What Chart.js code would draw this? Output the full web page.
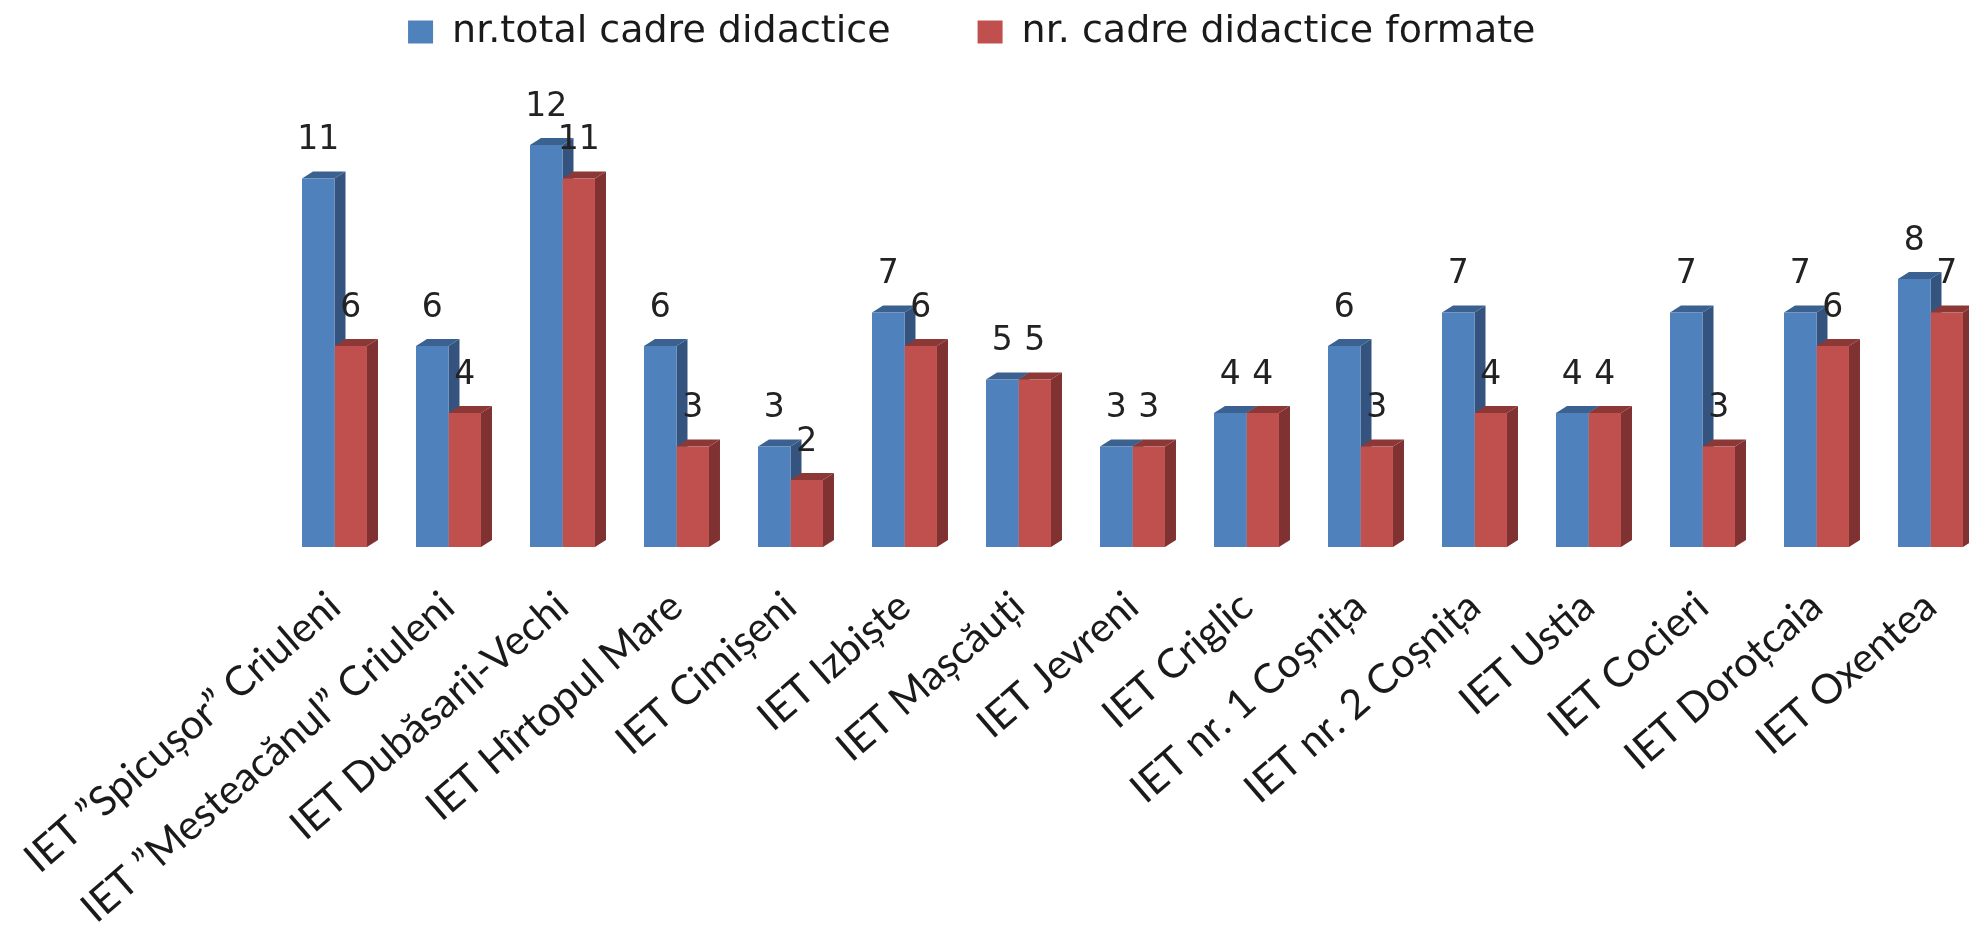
<!DOCTYPE html>
<html><head><meta charset="utf-8">
<style>html,body{margin:0;padding:0;background:#fff;overflow:hidden}
#w{width:1969px;height:926px;overflow:hidden;position:relative}
canvas{display:block;filter:blur(0.6px)}</style>
<script src="https://cdn.jsdelivr.net/npm/chart.js@4"></script></head>
<body><div id="w"><canvas id="c" width="2000" height="926" style="width:2000px;height:926px"></canvas></div>
<script>
const categories=["IET ”Spicușor” Criuleni","IET ”Mesteacănul” Criuleni","IET Dubăsarii-Vechi","IET Hîrtopul Mare","IET Cimișeni","IET Izbiște","IET Mașcăuți","IET Jevreni","IET Criglic","IET nr. 1 Coșnița","IET nr. 2 Coșnița","IET Ustia","IET Cocieri","IET Doroțcaia","IET Oxentea"];
const totalTeachers=[11,6,12,6,3,7,5,3,4,6,7,4,7,7,8];
const trainedTeachers=[6,4,11,3,2,6,5,3,4,3,4,4,3,6,7];
const seriesNames=["nr.total cadre didactice","nr. cadre didactice formate"];
const colors=["#4F81BD","#C0504D"], sides=["#34547F","#7F3231"], tops=["#3A6190","#8C3836"];
const DX=11,DY=7;
const depth={id:'depth',
 beforeLayout(ch){const l=ch.legend;if(l&&!l._p){l._p=1;const f=l.fit;l.fit=function(){f.call(this);this.height=78;};}},
 afterLayout(ch){const l=ch.legend;if(l){l.left-=22;l.right-=22;l.top=-74;l.bottom=200;}},
 beforeDatasetsDraw(ch){const c=ch.ctx;
  ch.data.datasets.forEach((d,i)=>ch.getDatasetMeta(i).data.forEach(b=>{
   const L=b.x-b.width/2,R=b.x+b.width/2,T=b.y,B=b.base;
   c.fillStyle=sides[i];c.beginPath();c.moveTo(R,T);c.lineTo(R+DX,T-DY);c.lineTo(R+DX,B-DY);c.lineTo(R,B);c.closePath();c.fill();
   c.fillStyle=tops[i];c.beginPath();c.moveTo(L,T);c.lineTo(L+DX,T-DY);c.lineTo(R+DX,T-DY);c.lineTo(R,T);c.closePath();c.fill();
  }));},
 afterDatasetsDraw(ch){const c=ch.ctx;c.save();c.font='33px "DejaVu Sans"';c.fillStyle='#222';c.textAlign='center';c.textBaseline='middle';
  ch.data.datasets.forEach((d,i)=>ch.getDatasetMeta(i).data.forEach((b,j)=>{c.fillText(String(d.data[j]),b.x,b.y-38);}));c.restore();}
};
new Chart(document.getElementById('c'),{type:'bar',plugins:[depth],
 data:{labels:categories,datasets:[
  {label:seriesNames[0],data:totalTeachers,backgroundColor:colors[0]},
  {label:seriesNames[1],data:trainedTeachers,backgroundColor:colors[1]}]},
 options:{responsive:false,animation:false,
  layout:{padding:{left:0,right:12.5,top:0,bottom:0}},
  datasets:{bar:{categoryPercentage:0.57,barPercentage:1,clip:false}},
  plugins:{tooltip:{enabled:false},
   legend:{position:'top',labels:{boxWidth:25,boxHeight:23,padding:87,color:'#1a1a1a',font:{family:'DejaVu Sans',size:38}}}},
  scales:{
   x:{grid:{display:false},border:{display:false},
      ticks:{autoSkip:false,minRotation:41,maxRotation:41,padding:27,color:'#1a1a1a',font:{family:'Lato',size:41}},
      afterFit(s){s.paddingLeft=0;s.paddingRight=0;s.height=379;}},
   y:{min:0,max:14,grid:{display:false},border:{display:false},ticks:{display:false},
      afterFit(s){s.width=277.5;s.paddingTop=0;s.paddingBottom=0;}}
  }}});
</script></body></html>
